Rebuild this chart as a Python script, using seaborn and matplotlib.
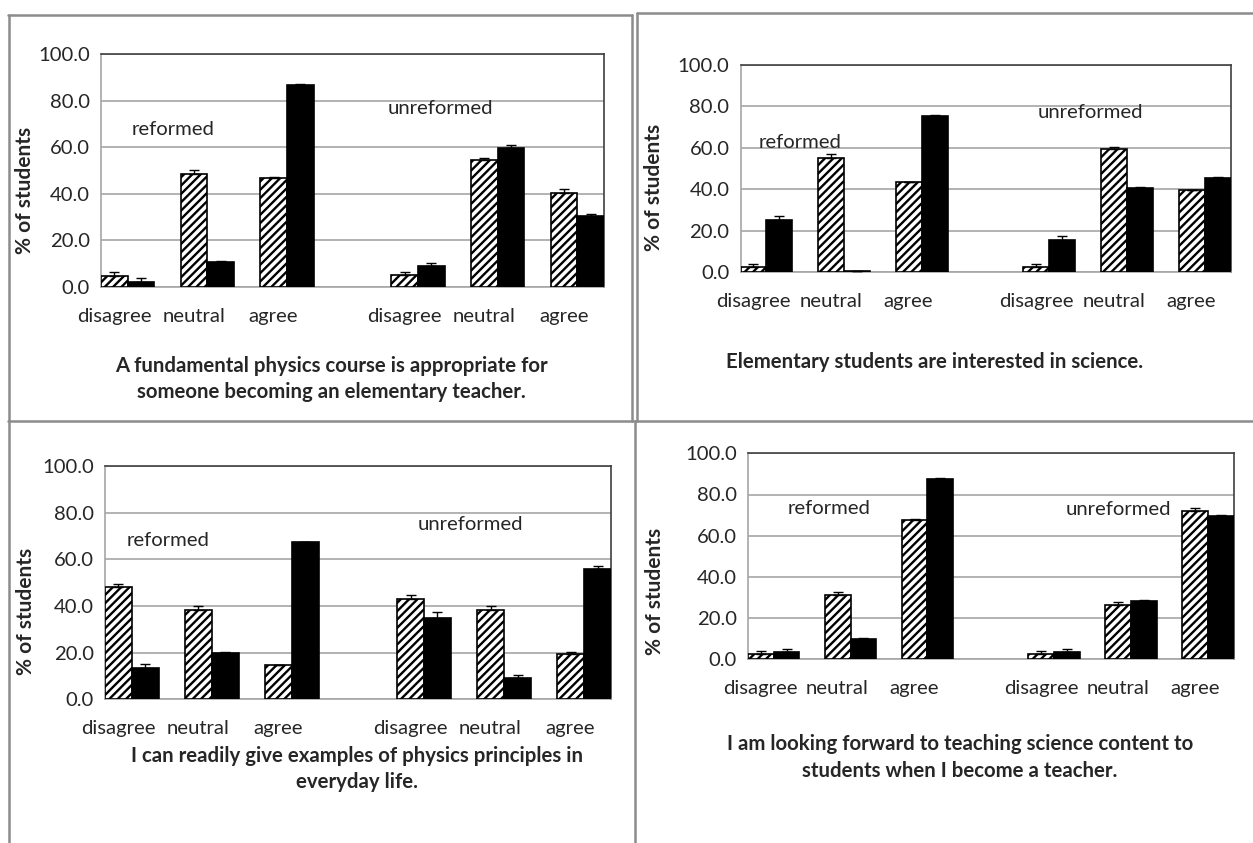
import matplotlib
matplotlib.use('Agg')
import matplotlib.pyplot as plt
from matplotlib.lines import Line2D
import seaborn as sns
import pandas as pd

# response categories: reformed (first 3) and unreformed (last 3)
categories = ['disagree', 'neutral', 'agree', 'disagree', 'neutral', 'agree']
series = ['pre', 'post']

# panel 1: fundamental physics course
p1_pre = [4.8, 48.3, 46.9, 5.2, 54.7, 40.4]
p1_pre_err = [1.7, 2.0, 0.3, 1.1, 0.7, 1.7]
p1_post = [2.0, 10.7, 86.8, 9.2, 59.7, 30.3]
p1_post_err = [1.9, 0.3, 0.2, 1.0, 1.1, 1.1]

# panel 2: elementary students interested in science
p2_pre = [2.4, 55.3, 43.5, 2.4, 59.2, 39.5]
p2_pre_err = [1.3, 1.5, 0.2, 1.3, 1.1, 0.3]
p2_post = [25.3, 0.6, 75.5, 15.3, 40.6, 45.2]
p2_post_err = [1.9, 0.1, 0.2, 1.9, 0.3, 0.5]

# panel 3: examples of physics principles
p3_pre = [48.0, 38.3, 14.7, 42.9, 38.3, 19.4]
p3_pre_err = [1.3, 1.7, 0.2, 1.9, 1.7, 0.9]
p3_post = [13.3, 20.0, 67.3, 35.0, 9.3, 56.0]
p3_post_err = [1.7, 0.3, 0.3, 2.3, 1.1, 1.1]

# panel 4: looking forward to teaching science
p4_pre = [2.4, 31.2, 67.6, 2.4, 26.4, 72.2]
p4_pre_err = [1.8, 1.5, 0.3, 1.8, 1.3, 1.3]
p4_post = [3.7, 9.9, 87.5, 3.7, 28.3, 69.7]
p4_post_err = [1.1, 0.3, 0.3, 1.1, 0.3, 0.3]

captions = [
    'A fundamental physics course is appropriate for\nsomeone becoming an elementary teacher.',
    'Elementary students are interested in science.',
    'I can readily give examples of physics principles in\neveryday life.',
    'I am looking forward to teaching science content to\nstudents when I become a teacher.',
]

# layout (pixels)
W, H = 1253, 843
positions = [0, 1, 2, 3.65, 4.65, 5.65]
axes_px = [(101, 54, 604, 287), (740.5, 65, 1230.5, 272),
           (105, 466, 611, 699.3), (748, 453.3, 1233.6, 659.3)]
ylabel_xy = [(-0.131, 0.416), (-0.156, 0.41), (-0.136, 0.376), (-0.171, 0.33)]
reformed_xy = [(0.57, 67.4), (0.43, 62.8), (0.45, 68), (0.72, 73)]
unreformed_xy = [(3.93, 76.4), (4.18, 77), (4.23, 75), (4.49, 72.5)]
caption_xy = [(331, 379), (934.5, 362), (357, 769), (960, 757.5)]

sns.set_style('white')
plt.rcParams['font.family'] = ['Lato', 'DejaVu Sans']
plt.rcParams['hatch.linewidth'] = 1.7

fig = plt.figure(figsize=(W / 100, H / 100), dpi=100)


def draw_panel(i, pre, pre_err, post, post_err):
    l, t, r, b = axes_px[i]
    ax = fig.add_axes([l / W, 1 - b / H, (r - l) / W, (b - t) / H])
    df = pd.DataFrame({
        'pos': positions * 2,
        'value': pre + post,
        'series': ['pre'] * 6 + ['post'] * 6,
    })
    sns.barplot(data=df, x='pos', y='value', hue='series', hue_order=series,
                palette={'pre': 'white', 'post': 'black'}, native_scale=True,
                width=0.67, edgecolor='black', linewidth=1.2, errorbar=None,
                legend=False, ax=ax, zorder=3)
    for bar in ax.containers[0]:
        bar.set_hatch('////')
    # error bars (upper half only, as in the original)
    for cont, errs in zip(ax.containers, [pre_err, post_err]):
        xs = [p.get_x() + p.get_width() / 2 for p in cont]
        hs = [p.get_height() for p in cont]
        ax.errorbar(xs, hs, yerr=[[0] * len(errs), errs], fmt='none',
                    ecolor='black', elinewidth=1, capsize=3.5, capthick=1, zorder=4)

    ax.set_xlim(positions[0] - 0.335, positions[-1] + 0.335)
    ax.set_ylim(0, 100)
    ax.set_yticks(range(0, 101, 20))
    ax.set_yticklabels([f'{v:.1f}' for v in range(0, 101, 20)])
    ax.set_xticks([p - 0.17 for p in positions])
    ax.set_xticklabels(categories)
    ax.tick_params(axis='y', length=5, width=1.2, color='#a6a6a6', labelsize=14.6,
                   pad=3, labelcolor='#262626')
    ax.tick_params(axis='x', length=0, pad=15, labelsize=14.6, labelcolor='#262626')
    ax.set_axisbelow(True)
    ax.yaxis.grid(True, color='#a6a6a6', lw=1.2)
    ax.xaxis.grid(False)
    for side in ['top', 'right']:
        ax.spines[side].set_color('#404040')
        ax.spines[side].set_linewidth(1.2)
    for side in ['left', 'bottom']:
        ax.spines[side].set_color('#a6a6a6')
        ax.spines[side].set_linewidth(1.2)

    ax.set_xlabel('')
    ax.set_ylabel('% of students', fontsize=15, fontweight='bold')
    ax.yaxis.set_label_coords(*ylabel_xy[i])
    ax.text(*reformed_xy[i], 'reformed', ha='center', va='center', fontsize=14.6, color='#262626')
    ax.text(*unreformed_xy[i], 'unreformed', ha='center', va='center', fontsize=14.6, color='#262626')

    cx, cy = caption_xy[i]
    fig.text(cx / W, 1 - cy / H, captions[i], ha='center', va='center',
             fontsize=14.7, fontweight='bold', linespacing=1.4)


draw_panel(0, p1_pre, p1_pre_err, p1_post, p1_post_err)
draw_panel(1, p2_pre, p2_pre_err, p2_post, p2_post_err)
draw_panel(2, p3_pre, p3_pre_err, p3_post, p3_post_err)
draw_panel(3, p4_pre, p4_pre_err, p4_post, p4_post_err)

# panel frames
frame_lines = [
    ((8, 15), (632, 15)), ((9, 15), (9, 843)), ((632, 15), (632, 421)),
    ((637, 13), (1253, 13)), ((637, 13), (637, 421)),
    ((8, 421), (1253, 421)), ((635, 421), (635, 843)),
]
for (x0, y0), (x1, y1) in frame_lines:
    fig.add_artist(Line2D([x0 / W, x1 / W], [1 - y0 / H, 1 - y1 / H],
                          transform=fig.transFigure, color='#8c8c8c', lw=1.8))

fig.savefig('out.png', dpi=100, facecolor='white')
